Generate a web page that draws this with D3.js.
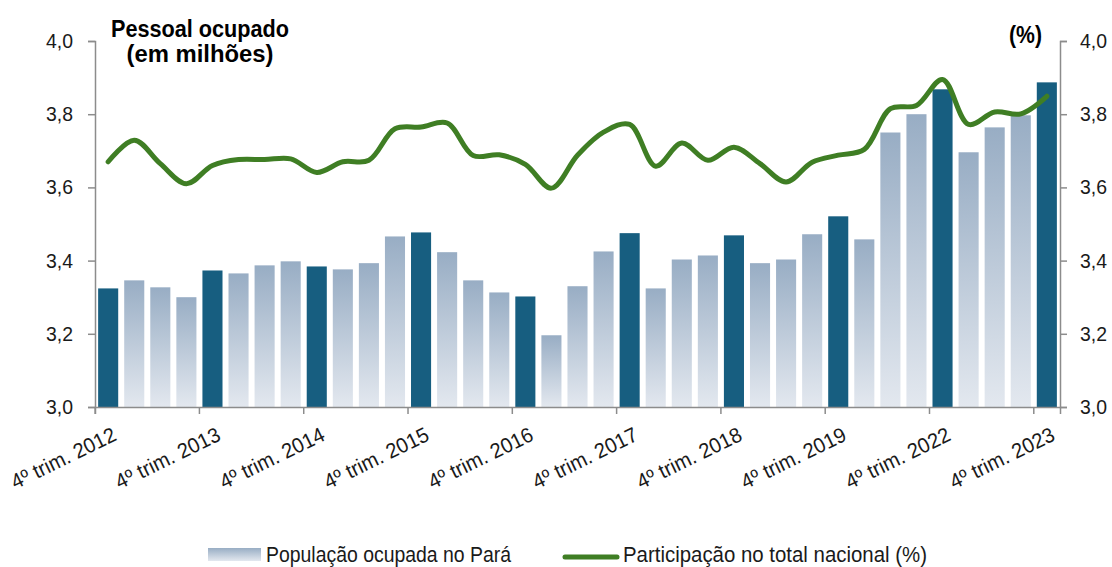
<!DOCTYPE html>
<html>
<head>
<meta charset="utf-8">
<script src="https://cdn.jsdelivr.net/npm/d3@7"></script>
<style>
  body { margin: 0; background: #fff; }
  svg { display: block; font-family: "Liberation Sans", Arial, sans-serif; }
</style>
</head>
<body>
<svg id="chart"></svg>
<script>
// quarters shown on the x axis (only the 4th quarters get a label)
const quarters = [
  '4º trim. 2012', '1º trim. 2013', '2º trim. 2013', '3º trim. 2013',
  '4º trim. 2013', '1º trim. 2014', '2º trim. 2014', '3º trim. 2014',
  '4º trim. 2014', '1º trim. 2015', '2º trim. 2015', '3º trim. 2015',
  '4º trim. 2015', '1º trim. 2016', '2º trim. 2016', '3º trim. 2016',
  '4º trim. 2016', '1º trim. 2017', '2º trim. 2017', '3º trim. 2017',
  '4º trim. 2017', '1º trim. 2018', '2º trim. 2018', '3º trim. 2018',
  '4º trim. 2018', '1º trim. 2019', '2º trim. 2019', '3º trim. 2019',
  '4º trim. 2019', '1º trim. 2022', '2º trim. 2022', '3º trim. 2022',
  '4º trim. 2022', '1º trim. 2023', '2º trim. 2023', '3º trim. 2023',
  '4º trim. 2023'
];

// população ocupada no Pará (milhões)
const ocupados = [
  3.324, 3.346, 3.327, 3.300, 3.373, 3.365, 3.387, 3.398, 3.384, 3.376,
  3.393, 3.466, 3.477, 3.423, 3.346, 3.313, 3.302, 3.196, 3.330, 3.425,
  3.475, 3.324, 3.403, 3.414, 3.469, 3.393, 3.403, 3.472, 3.521, 3.458,
  3.750, 3.800, 3.868, 3.696, 3.764, 3.797, 3.887
];

// participação no total nacional (%)
const participacao = [
  3.670, 3.729, 3.665, 3.610, 3.660, 3.676, 3.676, 3.678, 3.641, 3.670,
  3.674, 3.760, 3.765, 3.776, 3.687, 3.689, 3.663, 3.598, 3.688, 3.751,
  3.772, 3.658, 3.721, 3.674, 3.710, 3.665, 3.615, 3.669, 3.688, 3.704,
  3.815, 3.824, 3.895, 3.772, 3.806, 3.801, 3.849
];

const yTicks = [3.0, 3.2, 3.4, 3.6, 3.8, 4.0];

const legendLabels = ['População ocupada no Pará', 'Participação no total nacional (%)'];

class ComboChart {

  constructor(_config) {
    this.config = {
      parentElement: _config.parentElement,
      containerWidth: _config.containerWidth || 1112,
      containerHeight: _config.containerHeight || 567,
      left: 95, right: 1060, top: 41, bottom: 407
    }
    this.initVis();
  }

  initVis() {
    let vis = this;
    const c = vis.config;

    vis.svg = d3.select(c.parentElement)
        .attr('width', c.containerWidth)
        .attr('height', c.containerHeight);

    vis.data = quarters.map((q, i) => ({
      q: q, pop: ocupados[i], part: participacao[i], q4: q.startsWith('4º')
    }));

    vis.x = d3.scaleBand()
        .domain(quarters)
        .range([c.left, c.right])
        .paddingInner(0.23)
        .paddingOuter(0.12);

    vis.yLeft = d3.scaleLinear().domain([3, 4]).range([c.bottom, c.top]);
    vis.yRight = d3.scaleLinear().domain([3, 4]).range([c.bottom, c.top]);

    // gradient for the ordinary quarters
    const grad = vis.svg.append('defs').append('linearGradient')
        .attr('id', 'barGrad')
        .attr('x1', 0).attr('y1', 0).attr('x2', 0).attr('y2', 1);
    grad.append('stop').attr('offset', '0%').attr('stop-color', '#98adc4');
    grad.append('stop').attr('offset', '100%').attr('stop-color', '#e3e8ef');

    vis.render();
  }

  render() {
    let vis = this;
    const c = vis.config;
    const fmt = d => d3.format('.1f')(d).replace('.', ',');

    vis.svg.append('g').selectAll('rect')
        .data(vis.data)
      .join('rect')
        .attr('x', d => vis.x(d.q))
        .attr('width', vis.x.bandwidth())
        .attr('y', d => vis.yLeft(d.pop))
        .attr('height', d => vis.yLeft(3) - vis.yLeft(d.pop))
        .attr('fill', d => d.q4 ? '#175e80' : 'url(#barGrad)');

    // axes
    const axisColor = '#8c8c8c';
    const styleAxis = (g) => {
      g.select('.domain').attr('stroke', axisColor).attr('stroke-width', 1.5);
      g.selectAll('.tick line').attr('stroke', axisColor).attr('stroke-width', 1.5);
      g.selectAll('.tick text').attr('fill', '#1a1a1a').attr('font-family', null).style('font-size', '20px');
    };

    vis.svg.append('g')
        .attr('transform', `translate(${c.left},0)`)
        .call(d3.axisLeft(vis.yLeft).tickValues(yTicks).tickFormat(fmt).tickSizeOuter(0).tickSize(7).tickPadding(15))
        .call(styleAxis)
        .call(g => g.selectAll('.tick text').attr('textLength', 27).attr('lengthAdjust', 'spacingAndGlyphs'));

    vis.svg.append('g')
        .attr('transform', `translate(${c.right},0)`)
        .call(d3.axisRight(vis.yRight).tickValues(yTicks).tickFormat(fmt).tickSizeOuter(0).tickSize(7).tickPadding(13))
        .call(styleAxis)
        .call(g => g.selectAll('.tick text').attr('textLength', 27).attr('lengthAdjust', 'spacingAndGlyphs'));

    const shift = -vis.x.step() * vis.x.paddingInner() / 2 - vis.x.bandwidth() / 2;
    vis.svg.append('g')
        .attr('transform', `translate(0,${c.bottom})`)
        .call(d3.axisBottom(vis.x).tickValues(quarters.filter(q => q.startsWith('4º'))).tickSizeOuter(0).tickSize(7))
        .call(styleAxis)
        .call(g => g.selectAll('.tick line').attr('x1', shift).attr('x2', shift))
        .call(g => g.selectAll('.tick text')
            .style('font-size', '21px')
            .attr('text-anchor', 'end')
            .attr('textLength', 114).attr('lengthAdjust', 'spacingAndGlyphs')
            .attr('x', null).attr('y', null).attr('dy', '0.72em')
            .attr('transform', `translate(${shift + 16},19) rotate(-26)`));

    // line
    const line = d3.line()
        .x(d => vis.x(d.q) + vis.x.bandwidth() / 2)
        .y(d => vis.yRight(d.part))
        .curve(d3.curveCatmullRom);

    vis.svg.append('path')
        .datum(vis.data)
        .attr('fill', 'none')
        .attr('stroke', '#3f7e24')
        .attr('stroke-width', 5)
        .attr('stroke-linecap', 'round')
        .attr('d', line);

    // titles
    const title = vis.svg.append('g').attr('font-weight', 'bold').attr('fill', '#000')
        .style('font-size', '23px');
    title.append('text').attr('x', 200).attr('y', 37).attr('text-anchor', 'middle')
        .attr('textLength', 178).attr('lengthAdjust', 'spacingAndGlyphs').text('Pessoal ocupado');
    title.append('text').attr('x', 200).attr('y', 62).attr('text-anchor', 'middle')
        .attr('textLength', 147).attr('lengthAdjust', 'spacingAndGlyphs').text('(em milhões)');
    title.append('text').attr('x', 1042).attr('y', 43).attr('text-anchor', 'end')
        .attr('textLength', 33).attr('lengthAdjust', 'spacingAndGlyphs').text('(%)');

    // legend
    const legend = vis.svg.append('g').style('font-size', '22px').attr('fill', '#1a1a1a');
    legend.append('rect').attr('x', 208).attr('y', 548).attr('width', 53).attr('height', 13)
        .attr('fill', 'url(#barGrad)');
    legend.append('text').attr('x', 266).attr('y', 562)
        .attr('textLength', 245).attr('lengthAdjust', 'spacingAndGlyphs').text(legendLabels[0]);
    legend.append('line').attr('x1', 565).attr('x2', 617).attr('y1', 557).attr('y2', 557)
        .attr('stroke', '#3f7e24').attr('stroke-width', 5).attr('stroke-linecap', 'round');
    legend.append('text').attr('x', 623).attr('y', 562)
        .attr('textLength', 304).attr('lengthAdjust', 'spacingAndGlyphs').text(legendLabels[1]);
  }
}

new ComboChart({ parentElement: '#chart' });
</script>
</body>
</html>
